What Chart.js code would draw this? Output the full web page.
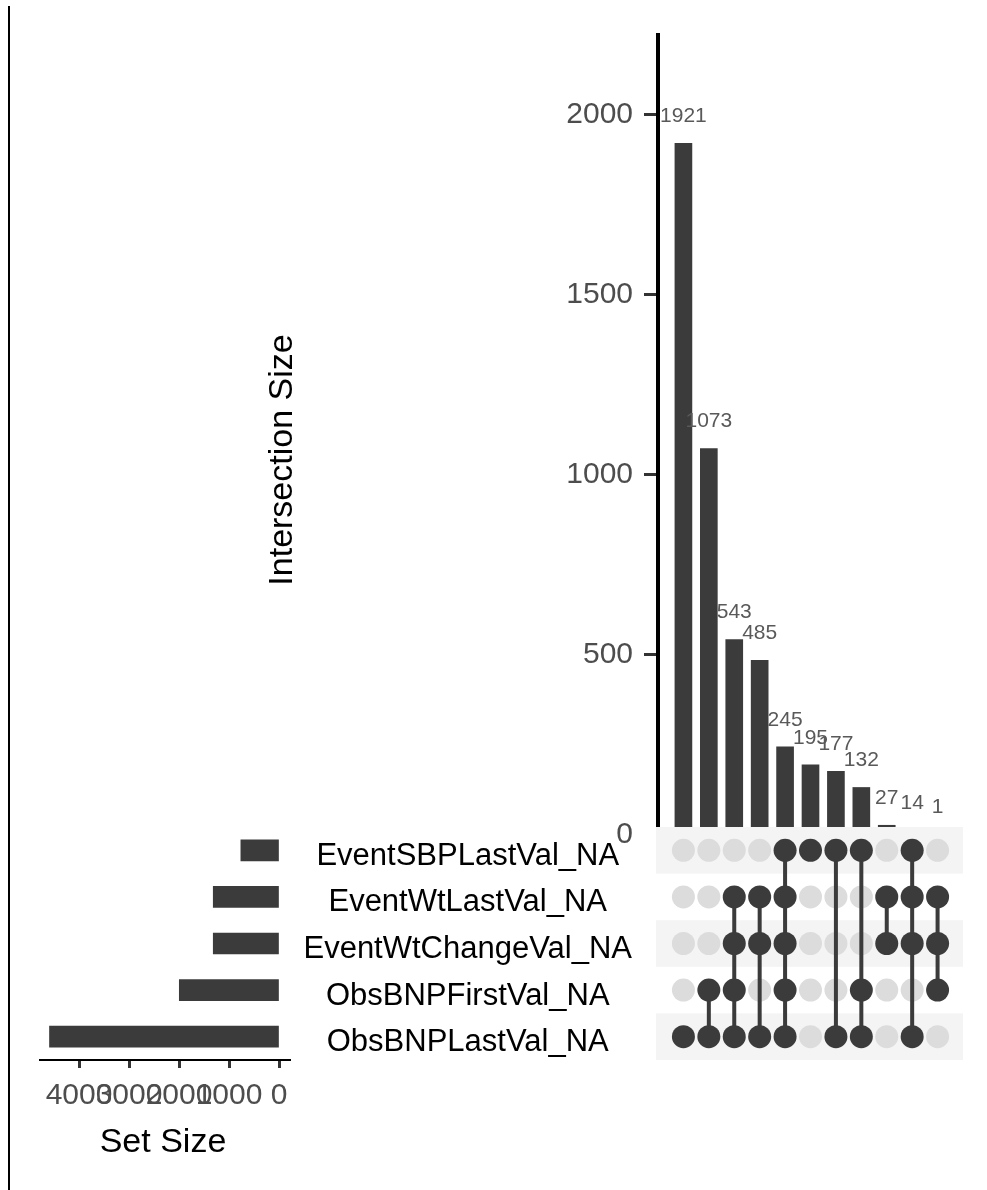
<!DOCTYPE html>
<html>
<head>
<meta charset="utf-8">
<title>Missing value intersections</title>
<script src="https://cdn.jsdelivr.net/npm/chart.js@4/dist/chart.umd.min.js"></script>
<style>
  html, body { margin: 0; padding: 0; background: #fff; }
  #page { position: relative; width: 987px; height: 1190px; overflow: hidden; }
  .box { position: absolute; }
  #frame { position: absolute; left: 8px; top: 6px; width: 2px; height: 1184px; background: #000; }
</style>
</head>
<body>
<div id="page">
  <div id="frame"></div>
  <div class="box" style="left:240px;top:0;"><canvas id="bars" width="747" height="850"></canvas></div>
  <div class="box" style="left:0;top:827px;"><canvas id="sets" width="300" height="363"></canvas></div>
  <div class="box" style="left:300px;top:827px;"><canvas id="matrix" width="687" height="240"></canvas></div>
</div>
<script>
(function() {
  "use strict";

  var setNames = [
    "EventSBPLastVal_NA",
    "EventWtLastVal_NA",
    "EventWtChangeVal_NA",
    "ObsBNPFirstVal_NA",
    "ObsBNPLastVal_NA",
  ];
  var setSizes = [763, 1315, 1315, 1994, 4590];
  var intersectionSizes = [1921, 1073, 543, 485, 245, 195, 177, 132, 27, 14, 1];
  // which sets (index into setNames) make up each intersection column
  var intersectionSets = [
    [4],
    [3, 4],
    [1, 2, 3, 4],
    [1, 2, 4],
    [0, 1, 2, 3, 4],
    [0],
    [0, 4],
    [0, 3, 4],
    [1, 2],
    [0, 1, 2, 4],
    [1, 2, 3],
  ];
  var sizeTicks = [0, 500, 1000, 1500, 2000];
  var setTicks = [0, 1000, 2000, 3000, 4000];

  var fontFamily = "'Liberation Sans', Arial, sans-serif";
  var dark = "#3b3b3b";
  var idle = "#dcdcdc";
  var band = "#f4f4f4";
  var tickGray = "#4d4d4d";

  Chart.defaults.font.family = fontFamily;
  Chart.defaults.animation = false;

  function plainNumber(value) {
    return String(value);
  }

  // keep the axis from pushing the plot area in to fit its end labels
  function noEdgePadding(scale) {
    scale.paddingTop = 0;
    scale.paddingBottom = 0;
    scale.paddingLeft = 0;
    scale.paddingRight = 0;
  }

  function caption(id, text, x, y, rotate) {
    return {
      id: id,
      afterDraw: function(chart) {
        var ctx = chart.ctx;
        ctx.save();
        ctx.translate(x, y);
        if (rotate) ctx.rotate(-Math.PI / 2);
        ctx.font = "34px " + fontFamily;
        ctx.fillStyle = "#000";
        ctx.textAlign = "center";
        ctx.textBaseline = "middle";
        ctx.fillText(text, 0, 0);
        ctx.restore();
      },
    };
  }

  var barLabels = {
    id: "barLabels",
    afterDatasetsDraw: function(chart) {
      var ctx = chart.ctx;
      var values = chart.data.datasets[0].data;
      ctx.save();
      ctx.font = "21px " + fontFamily;
      ctx.fillStyle = "#595959";
      ctx.textAlign = "center";
      ctx.textBaseline = "middle";
      chart.getDatasetMeta(0).data.forEach(function(bar, i) {
        ctx.fillText(String(values[i].y), bar.x, bar.y - 27);
      });
      ctx.restore();
    },
  };

  // intersection size bars
  new Chart(document.getElementById("bars"), {
    type: "bar",
    data: {
      datasets: [
        {
          data: intersectionSizes.map(function(v, i) {
            return { x: i + 1, y: v };
          }),
          backgroundColor: dark,
          barThickness: 17,
        },
      ],
    },
    options: {
      responsive: false,
      layout: { padding: { top: 35, right: 24, bottom: 15, left: 0 } },
      plugins: { legend: { display: false }, tooltip: { enabled: false } },
      scales: {
        x: { type: "linear", min: 0, max: 12, offset: false, display: false },
        y: {
          min: 0,
          max: 2222,
          afterFit: function(scale) {
            scale.width = 418;
            noEdgePadding(scale);
          },
          afterBuildTicks: function(scale) {
            scale.ticks = sizeTicks.map(function(v) {
              return { value: v };
            });
          },
          border: { color: "#000", width: 4 },
          grid: {
            drawOnChartArea: false,
            tickLength: 14,
            tickWidth: 3,
            tickColor: function(ctx) {
              return ctx.tick && ctx.tick.value === 0 ? "rgba(0,0,0,0)" : "#333";
            },
          },
          ticks: { color: tickGray, font: { size: 30 }, padding: 11, callback: plainNumber },
        },
      },
    },
    plugins: [barLabels, caption("yCaption", "Intersection Size", 43, 460, true)],
  });

  // set size bars, growing leftwards
  new Chart(document.getElementById("sets"), {
    type: "bar",
    data: {
      labels: setNames,
      datasets: [{ data: setSizes, backgroundColor: dark, barThickness: 21 }],
    },
    options: {
      indexAxis: "y",
      responsive: false,
      layout: { padding: { top: 0, right: 10, bottom: 30, left: 40 } },
      plugins: { legend: { display: false }, tooltip: { enabled: false } },
      scales: {
        y: { display: false, offset: true },
        x: {
          reverse: true,
          min: -220,
          max: 4780,
          afterFit: function(scale) {
            scale.height = 100;
            noEdgePadding(scale);
          },
          afterBuildTicks: function(scale) {
            scale.ticks = setTicks.map(function(v) {
              return { value: v };
            });
          },
          border: { color: "#000", width: 2 },
          grid: { drawOnChartArea: false, tickLength: 8, tickWidth: 3, tickColor: "#333" },
          ticks: {
            color: tickGray,
            font: { size: 30 },
            padding: 10,
            autoSkip: false,
            maxRotation: 0,
            minRotation: 0,
            callback: plainNumber,
          },
        },
      },
    },
    plugins: [caption("xCaption", "Set Size", 163, 316, false)],
  });

  // membership matrix
  var activePts = [];
  var idlePts = [];
  var datasets = [];
  intersectionSets.forEach(function(sets, c) {
    setNames.forEach(function(name, r) {
      (sets.indexOf(r) >= 0 ? activePts : idlePts).push({ x: c + 1, y: name });
    });
    if (sets.length > 1) {
      datasets.push({
        data: [
          { x: c + 1, y: setNames[Math.min.apply(null, sets)] },
          { x: c + 1, y: setNames[Math.max.apply(null, sets)] },
        ],
        showLine: true,
        borderColor: dark,
        borderWidth: 4,
        pointRadius: 0,
        order: 1,
      });
    }
  });
  datasets.push({
    data: activePts,
    backgroundColor: dark,
    borderWidth: 0,
    pointRadius: 11.5,
    order: 0,
  });
  datasets.push({
    data: idlePts,
    backgroundColor: idle,
    borderWidth: 0,
    pointRadius: 11.5,
    order: 2,
  });

  var rowBands = {
    id: "rowBands",
    beforeDatasetsDraw: function(chart) {
      var area = chart.chartArea;
      var yScale = chart.scales.y;
      var h = (area.bottom - area.top) / setNames.length;
      var ctx = chart.ctx;
      ctx.save();
      ctx.fillStyle = band;
      setNames.forEach(function(name, r) {
        if (r % 2 === 0) {
          var cy = yScale.getPixelForValue(r);
          ctx.fillRect(area.left - 2, cy - h / 2, area.right - area.left + 2, h);
        }
      });
      ctx.restore();
    },
  };

  new Chart(document.getElementById("matrix"), {
    type: "scatter",
    data: { datasets: datasets },
    options: {
      responsive: false,
      layout: { autoPadding: false, padding: { top: 0, right: 24, bottom: 7, left: 0 } },
      plugins: { legend: { display: false }, tooltip: { enabled: false } },
      scales: {
        x: { type: "linear", min: 0, max: 12, display: false },
        y: {
          type: "category",
          labels: setNames,
          offset: true,
          afterFit: function(scale) {
            scale.width = 358;
            noEdgePadding(scale);
          },
          border: { display: false },
          grid: { display: false, drawTicks: false },
          ticks: {
            color: "#000",
            font: { size: 31 },
            crossAlign: "center",
            padding: 26,
            labelOffset: 6,
          },
        },
      },
    },
    plugins: [rowBands],
  });
})();
</script>
</body>
</html>
